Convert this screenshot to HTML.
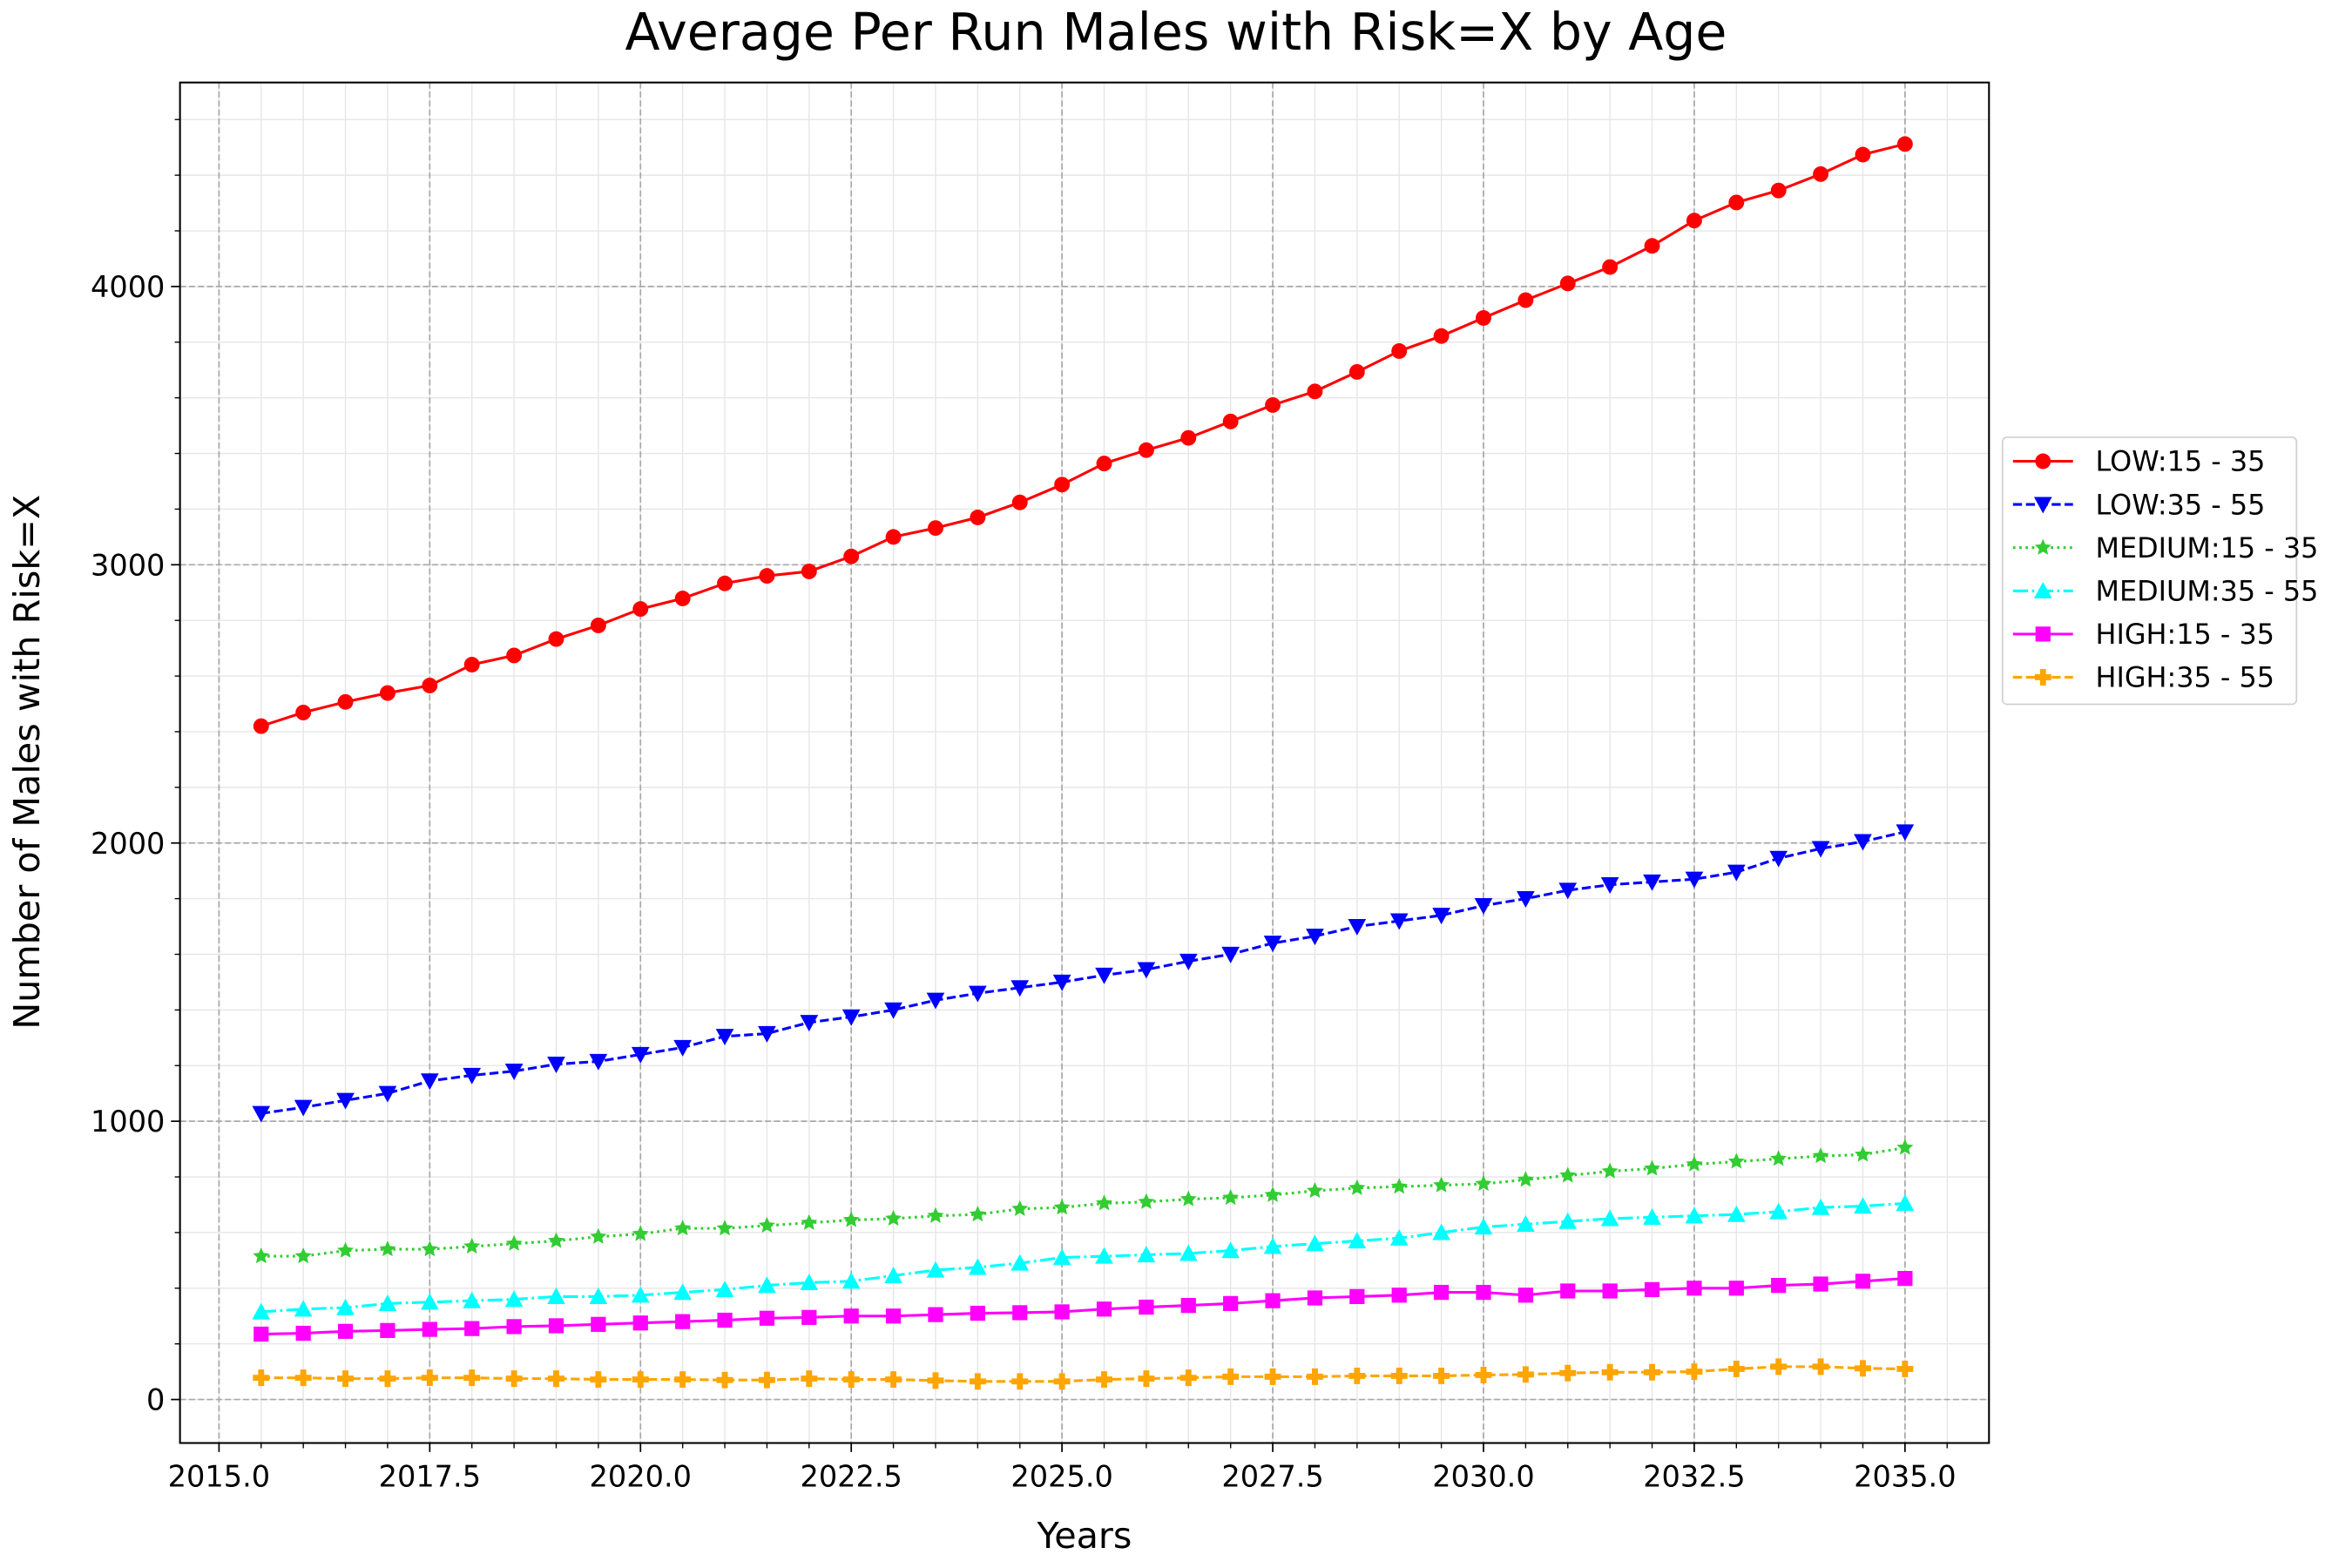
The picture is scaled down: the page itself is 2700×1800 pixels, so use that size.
<!DOCTYPE html>
<html><head><meta charset="utf-8">
<style>html,body{margin:0;padding:0;background:#fff}svg{display:block}text{font-family:"DejaVu Sans","Liberation Sans",sans-serif;fill:#000}</style>
</head><body>
<svg id="chart" width="2700" height="1800" viewBox="0 0 1568 1045.33" xmlns="http://www.w3.org/2000/svg">
<text x="784" y="33" font-size="34" text-anchor="middle">Average Per Run Males with Risk=X by Age</text>
<text x="723" y="1032" font-size="24" text-anchor="middle">Years</text>
<text x="0" y="0" font-size="24" text-anchor="middle" transform="translate(26,508) rotate(-90)">Number of Males with Risk=X</text>
<g id="grid"></g><g id="series"></g><g id="axes"></g><g id="legend"></g>
</svg>
<script>
const years = [];
for (let i = 0; i < 40; i++) years.push(2015.5 + i * 0.5);
const low1535 = [2420,2469,2507,2539,2566,2641,2674,2733,2782,2841,2879,2933,2960,2976,3030,3100,3132,3170,3224,3288,3364,3412,3456,3515,3574,3623,3693,3768,3822,3887,3951,4011,4070,4146,4237,4302,4345,4404,4474,4512];
const low3555 = [1028,1050,1075,1100,1145,1165,1180,1205,1215,1240,1265,1305,1315,1355,1375,1400,1435,1460,1480,1500,1525,1545,1575,1600,1640,1665,1700,1720,1740,1775,1800,1830,1850,1860,1870,1895,1945,1980,2005,2040];
const med1535 = [515,515,535,540,540,550,560,570,585,595,615,615,625,635,645,650,660,665,685,690,705,710,720,725,735,750,760,765,770,775,790,805,820,830,845,855,865,875,880,905];
const med3555 = [315,325,330,345,350,355,360,370,370,375,385,395,410,420,425,445,465,475,490,510,515,520,525,535,550,560,570,580,600,620,630,640,650,655,660,665,675,690,695,705];
const high1535 = [235,238,245,248,252,255,262,265,270,275,280,285,292,295,300,300,305,310,312,315,325,332,338,345,355,365,370,375,385,385,375,390,390,395,400,400,410,415,425,435];
const high3555 = [78,78,75,75,78,78,75,75,72,72,72,70,70,75,72,72,68,65,65,65,72,75,78,82,82,82,85,85,85,88,90,95,98,98,100,110,118,118,112,110];
const xTicks = [2015,2017.5,2020,2022.5,2025,2027.5,2030,2032.5,2035];
const yTicks = [0,1000,2000,3000,4000];

const L=120,R=1326,T=55,B=962;
const xs = v => 146 + (v-2015)*(1270-146)/20;
const ys = v => 933 - v*(933-191)/4000;
const NS="http://www.w3.org/2000/svg";
function mk(tag, parent, attrs){const e=document.createElementNS(NS,tag);for(const k in attrs)e.setAttribute(k,attrs[k]);parent.appendChild(e);return e;}
const grid=document.getElementById('grid'), ser=document.getElementById('series'), axes=document.getElementById('axes'), leg=document.getElementById('legend');

for(let v=2014.5; v<=2036.5; v+=0.5){const x=xs(v); if(x<L||x>R) continue;
 const g=mk('line',grid,{x1:x,x2:x,y1:T,y2:B,stroke:'#e6e6e6','stroke-width':0.8});
 
 }
for(let v=-200; v<=4800; v+=200){const y=ys(v); if(y<T||y>B) continue;
 const g=mk('line',grid,{x1:L,x2:R,y1:y,y2:y,stroke:'#e6e6e6','stroke-width':0.8});
 
 }
xTicks.forEach(v=>{const x=xs(v);
 const g=mk('line',grid,{x1:x,x2:x,y1:T,y2:B,stroke:'#a8a8a8','stroke-width':1,'stroke-dasharray':'4,2'});
 
 
 mk('line',axes,{x1:x,x2:x,y1:B,y2:B+6,stroke:'#000','stroke-width':1});
 const t=mk('text',axes,{x:x,y:B+29,'font-size':19.5,'text-anchor':'middle'});t.textContent=v.toFixed(1);
 
 });
for(let v=2014.5; v<=2036.5; v+=0.5){if(xTicks.includes(v))continue;const x=xs(v);if(x<L||x>R)continue;mk('line',axes,{x1:x,x2:x,y1:B,y2:B+3.5,stroke:'#000','stroke-width':0.8});}
yTicks.forEach(v=>{const y=ys(v);
 const g=mk('line',grid,{x1:L,x2:R,y1:y,y2:y,stroke:'#a8a8a8','stroke-width':1,'stroke-dasharray':'4,2'});
 
 
 mk('line',axes,{x1:L-6,x2:L,y1:y,y2:y,stroke:'#000','stroke-width':1});
 const t=mk('text',axes,{x:L-10,y:y+7,'font-size':19.5,'text-anchor':'end'});t.textContent=String(v);
 
 });
for(let v=-200; v<=4800; v+=200){if(v%1000===0)continue;const y=ys(v);if(y<T||y>B)continue;mk('line',axes,{x1:L-3.5,x2:L,y1:y,y2:y,stroke:'#000','stroke-width':0.8});}
const fr=mk('rect',axes,{x:L,y:T,width:R-L,height:B-T,fill:'none',stroke:'#000','stroke-width':1.2});



function marker(parent,type,x,y,c){
 if(type==='o') return mk('circle',parent,{cx:x,cy:y,r:5.2,fill:c});
 if(type==='v') return mk('polygon',parent,{points:`${x-6},${y-5} ${x+6},${y-5} ${x},${y+6}`,fill:c});
 if(type==='^') return mk('polygon',parent,{points:`${x-6},${y+5} ${x+6},${y+5} ${x},${y-6}`,fill:c});
 if(type==='s') return mk('rect',parent,{x:x-5,y:y-5,width:10,height:10,fill:c});
 if(type==='*'){let p=[];for(let i=0;i<10;i++){const a=-Math.PI/2+i*Math.PI/5,r=i%2?2.7:5.8;p.push((x+r*Math.cos(a)).toFixed(2)+','+(y+r*Math.sin(a)).toFixed(2));}return mk('polygon',parent,{points:p.join(' '),fill:c});}
 if(type==='P') return mk('path',parent,{d:`M${x-2},${y-5.5}h4v3.5h3.5v4h-3.5v3.5h-4v-3.5h-3.5v-4h3.5z`,fill:c});
}
const seriesDefs=[
 {name:'LOW:15 - 35',data:low1535,c:'#ff0000',m:'o',dash:'',id:'low-15-35'},
 {name:'LOW:35 - 55',data:low3555,c:'#0000ff',m:'v',dash:'6,2.6',id:'low-35-55'},
 {name:'MEDIUM:15 - 35',data:med1535,c:'#32cd32',m:'*',dash:'1.6,2.6',id:'medium-15-35'},
 {name:'MEDIUM:35 - 55',data:med3555,c:'#00ffff',m:'^',dash:'10,2.6,1.6,2.6',id:'medium-35-55'},
 {name:'HIGH:15 - 35',data:high1535,c:'#ff00ff',m:'s',dash:'',id:'high-15-35'},
 {name:'HIGH:35 - 55',data:high3555,c:'#ffa500',m:'P',dash:'6,2.6',id:'high-35-55'}];
seriesDefs.forEach(s=>{
 const g=mk('g',ser,{});
 
 
 const pts=s.data.map((v,i)=>xs(years[i]).toFixed(2)+','+ys(v).toFixed(2)).join(' ');
 const pl=mk('polyline',g,{points:pts,fill:'none',stroke:s.c,'stroke-width':1.8,'stroke-dasharray':s.dash});
 
 
 s.data.forEach((v,i)=>{const m=marker(g,s.m,xs(years[i]),ys(v),s.c);
  
  });
});
const lb=mk('rect',leg,{x:1335,y:291.5,width:196,height:178,rx:3,fill:'#fff',stroke:'#d0d0d0','stroke-width':1});


seriesDefs.forEach((s,i)=>{const y=307.5+i*28.8;
 const g=mk('g',leg,{});
 
 
 mk('line',g,{x1:1342,x2:1382,y1:y,y2:y,stroke:s.c,'stroke-width':1.8,'stroke-dasharray':s.dash});
 marker(g,s.m,1362,y,s.c);
 const t=mk('text',g,{x:1397,y:y+6.5,'font-size':18.5});t.textContent=s.name;});
</script>
</body></html>
